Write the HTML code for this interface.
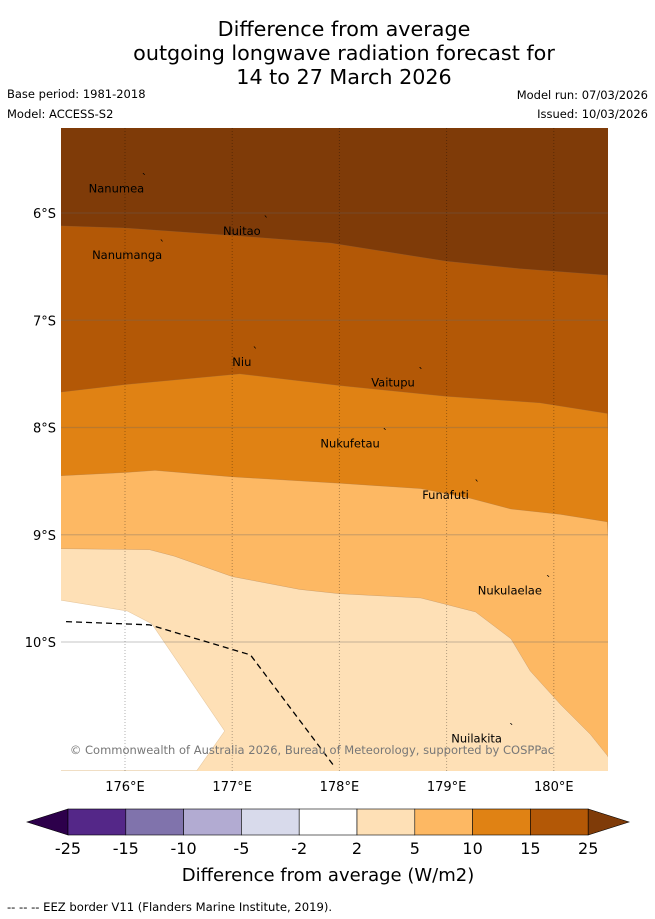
<!DOCTYPE html>
<html><head><meta charset="utf-8"><style>
body{margin:0;background:#fff;width:655px;height:919px;overflow:hidden;font-family:"DejaVu Sans","Liberation Sans",sans-serif}
svg{display:block}
</style></head><body>
<svg id="chart" width="655" height="919" xmlns="http://www.w3.org/2000/svg">
<g font-size="20.7" text-anchor="middle" fill="#000">
<text x="344" y="36">Difference from average</text>
<text x="344" y="60">outgoing longwave radiation forecast for</text>
<text x="344" y="84">14 to 27 March 2026</text>
</g>
<g font-size="11.5" fill="#000">
<text x="7" y="98">Base period: 1981-2018</text>
<text x="7" y="118">Model: ACCESS-S2</text>
<text x="648" y="99" text-anchor="end">Model run: 07/03/2026</text>
<text x="648" y="118" text-anchor="end">Issued: 10/03/2026</text>
</g>
<defs><clipPath id="mapclip"><rect x="61" y="128" width="547" height="643"/></clipPath></defs>
<g id="map" clip-path="url(#mapclip)"></g>
<g id="axes"></g>
<g id="cbar"></g>
<text x="7" y="911" font-size="11.6" fill="#000">--  --  -- EEZ border V11 (Flanders Marine Institute, 2019).</text>
</svg>
<script>
// axis ticks
const lonTicks = [176,177,178,179,180];
const latTicks = [6,7,8,9,10];
// contour boundaries (lon, lat S)
const b15Lon = [175.4,176,177,177.92,179,179.69,180.5];
const b15Lat = [6.12,6.14,6.21,6.28,6.45,6.52,6.58];
const b10Lon = [175.4,176,177.07,178.01,179,179.87,180.5];
const b10Lat = [7.67,7.6,7.50,7.61,7.71,7.77,7.87];
const b5Lon = [175.4,176,176.28,177,178,178.76,179.22,179.6,180.06,180.5];
const b5Lat = [8.45,8.42,8.40,8.46,8.52,8.57,8.66,8.76,8.81,8.88];
const b2Lon = [175.4,176.23,176.46,177,177.63,178,178.76,179.27,179.6,179.78,180.06,180.34,180.5];
const b2Lat = [9.13,9.14,9.20,9.39,9.51,9.55,9.59,9.72,9.97,10.27,10.58,10.86,11.06];
const whiteLon = [175.4,176.02,176.25,176.93,176.67,175.4];
const whiteLat = [9.61,9.71,9.83,10.83,11.2,11.2];
const eezLon = [175.45,176.23,177.17,177.96];
const eezLat = [9.81,9.84,10.12,11.17];
const places = ["Nanumea","Nuitao","Nanumanga","Niu","Vaitupu","Nukufetau","Funafuti","Nukulaelae","Nuilakita"];
const placeLon = [175.92,177.09,176.02,177.09,178.5,178.1,178.99,179.59,179.28];
const placeLat = [5.76,6.16,6.38,7.38,7.57,8.14,8.62,9.51,10.89];
const cbTicks = ["-25","-15","-10","-5","-2","2","5","10","15","25"];
const cbColors = ["#542788","#8073ac","#b2abd2","#d8daeb","#ffffff","#fee0b6","#fdb863","#e08214","#b35806"];

const NS="http://www.w3.org/2000/svg";
const X = lon => 125 + (lon-176)*107.2;
const Y = lat => 213 + (lat-6)*107.25;
function mk(tag, attrs, parent){const e=document.createElementNS(NS,tag);for(const k in attrs)e.setAttribute(k,attrs[k]);parent.appendChild(e);return e;}
const map=document.getElementById('map');
let r=mk('rect',{x:61,y:128,width:547,height:643,fill:'#7f3b08'},map);


function band(lons,lats,color,name){
  let pts=lons.map((l,i)=>X(l)+','+Y(lats[i]));
  pts.push('620,780','50,780');
  const p=mk('polygon',{points:pts.join(' '),fill:color,stroke:'#8a6a50','stroke-width':0.4,'stroke-opacity':0.5},map);
  
  
}
band(b15Lon,b15Lat,'#b35806','band-10-15');
band(b10Lon,b10Lat,'#e08214','band-5-10');
band(b5Lon,b5Lat,'#fdb863','band-2-5');
band(b2Lon,b2Lat,'#fee0b6','band-2-plus');
const w=mk('polygon',{points:whiteLon.map((l,i)=>X(l)+','+Y(whiteLat[i])).join(' '),fill:'#fff',stroke:'#e8c9a0','stroke-width':0.6},map);


// grid
lonTicks.forEach(l=>{const g=mk('line',{x1:X(l),x2:X(l),y1:128,y2:771,stroke:'#000','stroke-opacity':0.3,'stroke-width':1,'stroke-dasharray':'1,2'},map);

});
latTicks.forEach(l=>{const g=mk('line',{x1:61,x2:608,y1:Y(l),y2:Y(l),stroke:'#666','stroke-opacity':0.3,'stroke-width':1.2},map);

});
// eez
const ez=mk('polyline',{points:eezLon.map((l,i)=>X(l)+','+Y(eezLat[i])).join(' '),fill:'none',stroke:'#000','stroke-width':1.3,'stroke-dasharray':'6,4'},map);


// places
places.forEach((n,i)=>{const t=mk('text',{x:X(placeLon[i]),y:Y(placeLat[i])+5,'font-size':11.5,fill:'#000','text-anchor':'middle'},map);t.textContent=n;


const m=mk('text',{x:X(placeLon[i])+w2(n),y:Y(placeLat[i])-6,'font-size':11,fill:'#000'},map);m.textContent='`';

});
function w2(n){return n.length*3.6;}
const cp=mk('text',{x:312,y:754,'font-size':11.5,fill:'#777','text-anchor':'middle'},map);
cp.textContent='© Commonwealth of Australia 2026, Bureau of Meteorology, supported by COSPPac';


// axes labels
const axes=document.getElementById('axes');
lonTicks.forEach(l=>{const t=mk('text',{x:X(l),y:791,'font-size':13,'text-anchor':'middle',fill:'#000'},axes);t.textContent=l+'°E';

});
latTicks.forEach(l=>{const t=mk('text',{x:56,y:Y(l)+5,'font-size':13,'text-anchor':'end',fill:'#000'},axes);t.textContent=l+'°S';

});
// colorbar
const cb=document.getElementById('cbar');
const cx0=68,cw=57.8,cy=809,ch=26;
let a1=mk('polygon',{points:`27,822 ${cx0},${cy} ${cx0},${cy+ch}`,fill:'#2d004b',stroke:'#000','stroke-width':0.6},cb);


cbColors.forEach((c,i)=>{const s=mk('rect',{x:cx0+i*cw,y:cy,width:cw,height:ch,fill:c,stroke:'#000','stroke-width':0.6},cb);

});
const xe=cx0+cbColors.length*cw;
let a2=mk('polygon',{points:`${xe},${cy} 629,822 ${xe},${cy+ch}`,fill:'#7f3b08',stroke:'#000','stroke-width':0.6},cb);


cbTicks.forEach((t,i)=>{const e=mk('text',{x:cx0+i*cw,y:854,'font-size':16,'text-anchor':'middle',fill:'#000'},cb);e.textContent=t;

});
const ct=mk('text',{x:328,y:881,'font-size':18,'text-anchor':'middle',fill:'#000'},cb);ct.textContent='Difference from average (W/m2)';


</script>
</body></html>
